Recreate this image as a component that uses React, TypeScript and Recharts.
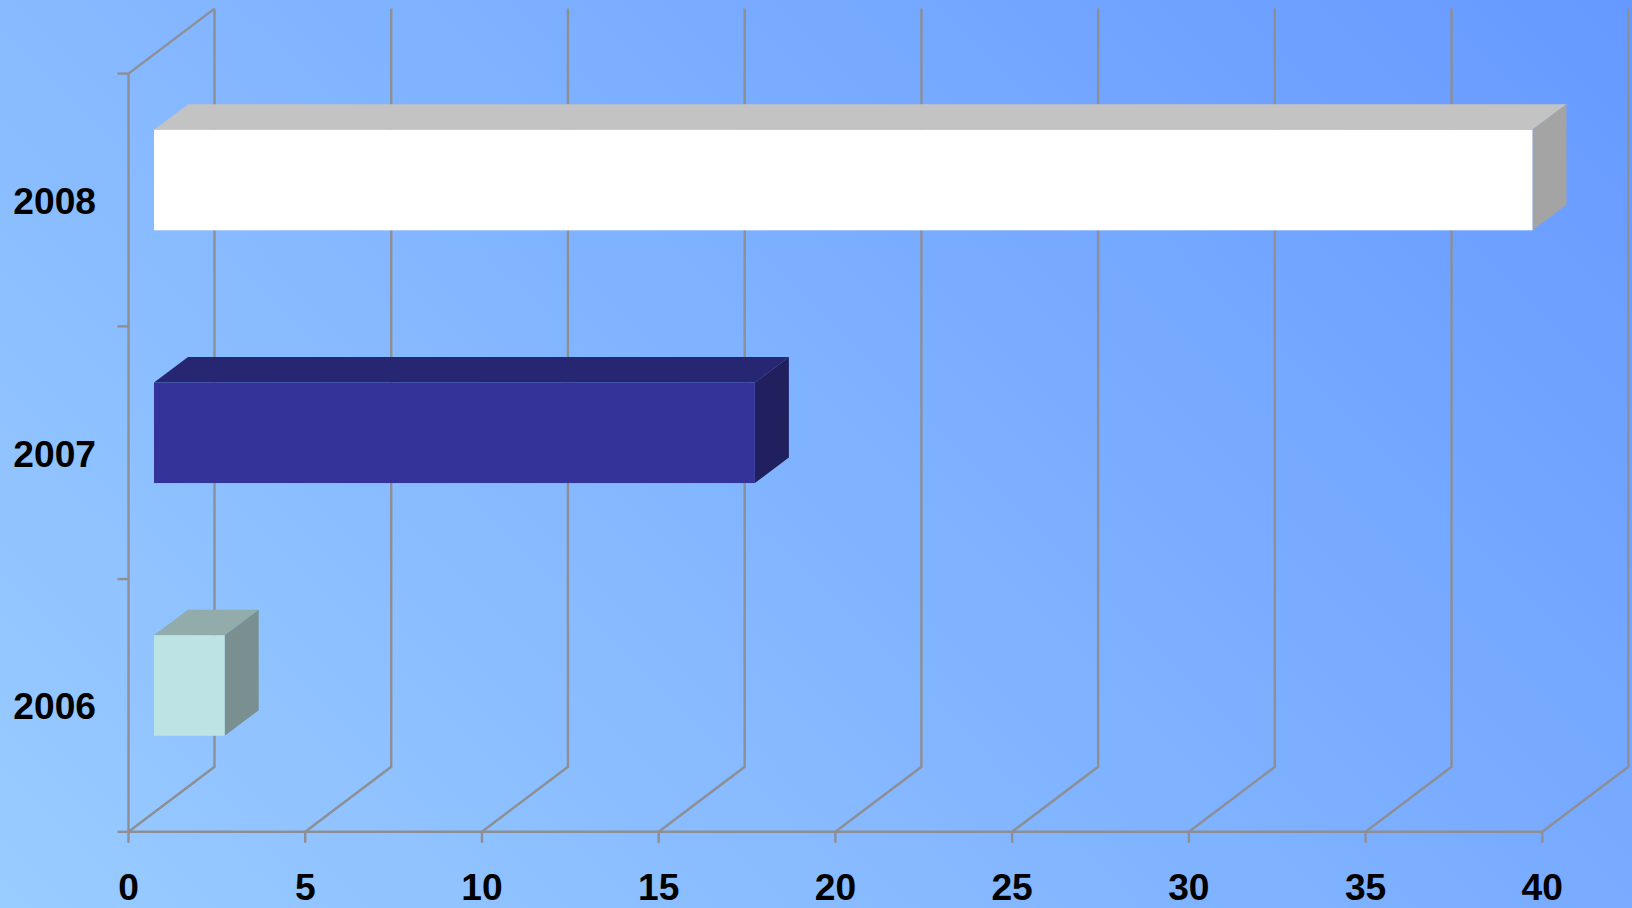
import React from "react";
import { BarChart, Bar, XAxis, YAxis, CartesianGrid } from "recharts";

const years = ["2008", "2007", "2006"];
const amounts = [39, 17, 2];
const valueTicks = [0, 5, 10, 15, 20, 25, 30, 35, 40];
const frontColors = ["#ffffff", "#333399", "#bee3e4"];
const topColors = ["#c3c3c3", "#262673", "#92abab"];
const sideColors = ["#a4a4a4", "#20205f", "#7a8f8f"];

const table = years.map((year, i) => ({ year, amount: amounts[i] }));

const W = 1632;
const H = 908;
const LEFT = 128.5;
const RIGHT = 89.7;
const TOP = 73.6;
const BOTTOM = 76.2;
const WALL_DX = 86;
const WALL_DY = 65;
const BAR_SHIFT_X = 25.5;
const BAR_SHIFT_Y = -19.8;
const BAR_DX = 34;
const BAR_DY = 25.6;
const BAND = (H - TOP - BOTTOM) / years.length;
const LINE = "#8d8f95";
const LINE_W = 2.4;
const FONT = "'Liberation Sans', Arial, sans-serif";

function Bar3D(props: any) {
  const { x, y, width, height, index } = props;
  const l = x + BAR_SHIFT_X;
  const t = y + BAR_SHIFT_Y;
  const r = l + width;
  const b = t + height;
  return (
    <g>
      <polygon
        points={`${l},${t} ${l + BAR_DX},${t - BAR_DY} ${r + BAR_DX},${t - BAR_DY} ${r},${t}`}
        fill={topColors[index]}
      />
      <polygon
        points={`${r},${t} ${r + BAR_DX},${t - BAR_DY} ${r + BAR_DX},${b - BAR_DY} ${r},${b}`}
        fill={sideColors[index]}
      />
      <rect x={l} y={t} width={width} height={height} fill={frontColors[index]} />
    </g>
  );
}

function WallLine(props: any) {
  const { x1, y1, y2, index } = props;
  const backX = x1 + WALL_DX;
  return (
    <g key={`wall-${index}`} fill="none" stroke={LINE} strokeWidth={LINE_W}>
      <polyline points={`${x1},${y2} ${backX},${y2 - WALL_DY} ${backX},${y1 - WALL_DY}`} />
      {index === 0 ? <line x1={x1} y1={y1} x2={backX} y2={y1 - WALL_DY} /> : null}
    </g>
  );
}

function YearTick(props: any) {
  const { y, payload, index } = props;
  const axisX = LEFT;
  return (
    <g>
      <line x1={axisX - 11} x2={axisX} y1={y + BAND / 2} y2={y + BAND / 2} stroke={LINE} strokeWidth={LINE_W} />
      {index === 0 ? (
        <line x1={axisX - 11} x2={axisX} y1={y - BAND / 2} y2={y - BAND / 2} stroke={LINE} strokeWidth={LINE_W} />
      ) : null}
      <text
        x={96}
        y={y + 14}
        textAnchor="end"
        fontFamily={FONT}
        fontWeight="bold"
        fontSize={37.2}
        fill="#000000"
      >
        {payload.value}
      </text>
    </g>
  );
}

function ValueTick(props: any) {
  const { x, payload } = props;
  return (
    <text
      x={x}
      y={899.5}
      textAnchor="middle"
      fontFamily={FONT}
      fontWeight="bold"
      fontSize={37.2}
      fill="#000000"
    >
      {payload.value}
    </text>
  );
}

export default function App() {
  return (
    <div
      style={{
        position: "fixed",
        left: 0,
        top: 0,
        width: W,
        height: H,
        background: "linear-gradient(45deg, #99ccff 0%, #6699ff 100%)",
        overflow: "hidden",
      }}
    >
      <BarChart
        width={W}
        height={H}
        layout="vertical"
        data={table}
        margin={{ left: 0, right: RIGHT, top: TOP, bottom: 0 }}
        barCategoryGap={0}
      >
        <CartesianGrid horizontal={false} vertical={WallLine as any} syncWithTicks />
        <XAxis
          type="number"
          domain={[0, 40]}
          ticks={valueTicks}
          tickCount={valueTicks.length}
          interval={0}
          height={BOTTOM}
          tick={ValueTick as any}
          tickSize={11}
          tickLine={{ stroke: LINE, strokeWidth: LINE_W }}
          axisLine={{ stroke: LINE, strokeWidth: LINE_W }}
        />
        <YAxis
          type="category"
          dataKey="year"
          width={LEFT}
          interval={0}
          tick={YearTick as any}
          tickLine={false}
          axisLine={{ stroke: LINE, strokeWidth: LINE_W }}
        />
        <Bar dataKey="amount" barSize={100.5} shape={Bar3D as any} isAnimationActive={false} />
      </BarChart>
    </div>
  );
}
